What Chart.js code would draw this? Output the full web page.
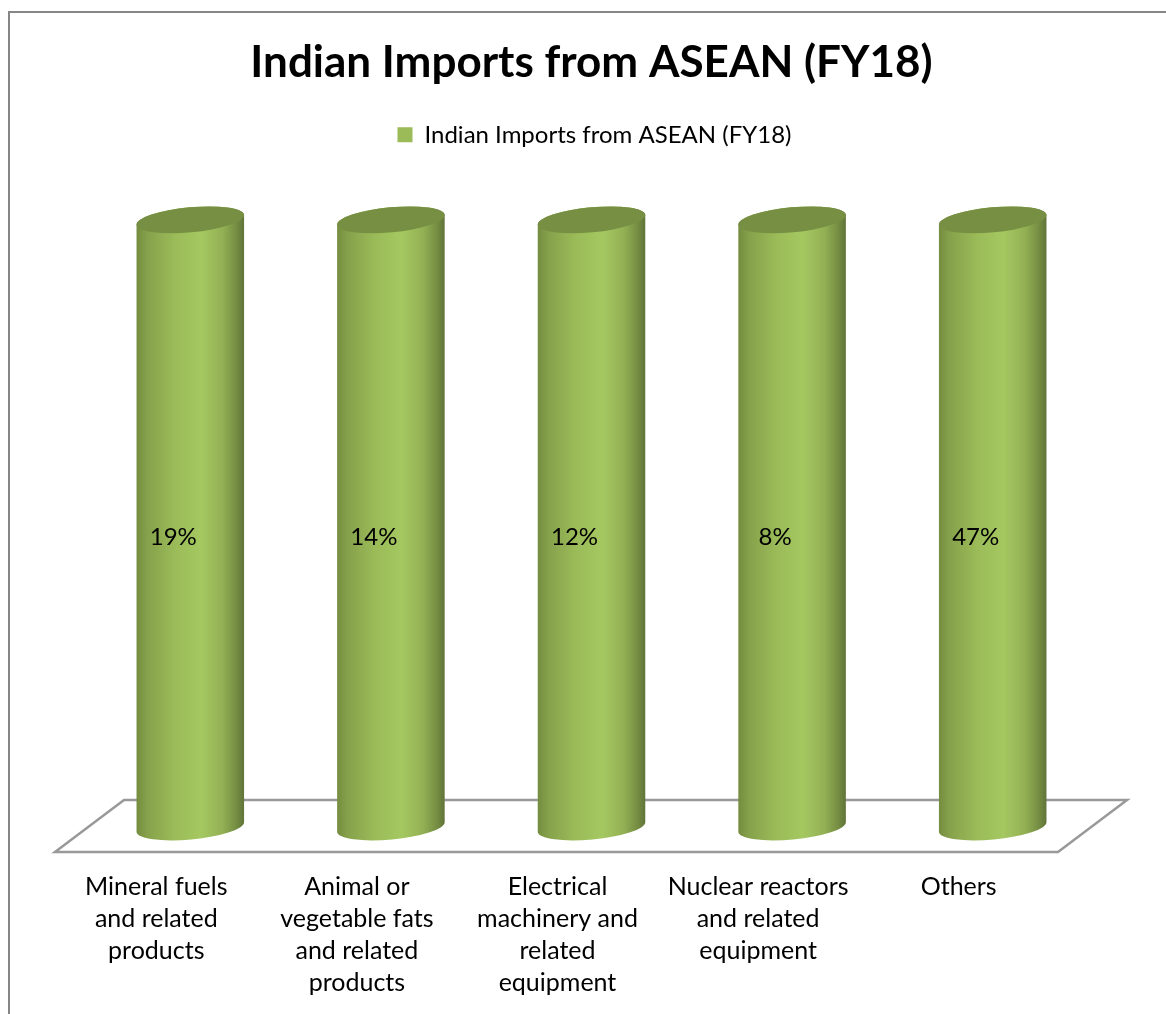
<!DOCTYPE html>
<html>
<head>
<meta charset="utf-8">
<title>Indian Imports from ASEAN (FY18)</title>
<script src="https://cdn.jsdelivr.net/npm/chart.js@4"></script>
<style>
html, body { margin: 0; padding: 0; background: #fff; overflow: hidden; }
#frame { position: absolute; left: 8px; top: 11px; width: 1200px; height: 1100px; border-left: 2px solid #868686; border-top: 2px solid #868686; }
#grafico { position: absolute; left: 0; top: 0; }
</style>
</head>
<body>
<div id="frame"></div>
<canvas id="grafico" width="1166" height="1014"></canvas>
<script>
var chartTitle = "Indian Imports from ASEAN (FY18)";
var categories = [
    ["Mineral fuels", "and related", "products"],
    ["Animal or", "vegetable fats", "and related", "products"],
    ["Electrical", "machinery and", "related", "equipment"],
    ["Nuclear reactors", "and related", "equipment"],
    ["Others"]
];
// the source is a 100% stacked column with one series, so every column is full height
var columnShare = [100, 100, 100, 100, 100];
var percentLabels = ["19%", "14%", "12%", "8%", "47%"];

var FONT = "Lato, Carlito, Calibri, sans-serif";
var TILT = -5.3 * Math.PI / 180;

var cylinders = {
    id: "cylinders",
    afterLayout: function (chart) {
        // legend padding only reserves room above the row, so pull it back up
        // to leave the gap under it; it also sits a little right of the title
        chart.legend.top -= 63;
        chart.legend.bottom -= 63;
        chart.legend.left += 3;
        chart.legend.right += 3;
    },
    beforeDatasetsDraw: function (chart) {
        // floor of the 3D plot
        var ctx = chart.ctx, a = chart.chartArea;
        var frontY = a.bottom + 25, backY = a.bottom - 27;
        ctx.save();
        ctx.strokeStyle = "#999999";
        ctx.lineWidth = 2.5;
        ctx.beginPath();
        ctx.moveTo(a.left - 35, frontY);
        ctx.lineTo(a.right - 35, frontY);
        ctx.lineTo(a.right + 34, backY);
        ctx.lineTo(a.left + 34, backY);
        ctx.closePath();
        ctx.stroke();
        ctx.restore();
    },
    beforeDatasetDraw: function (chart, args) {
        var ctx = chart.ctx;
        args.meta.data.forEach(function (bar, i) {
            var p = bar.getProps(["x", "y", "base", "width"], true);
            var rx = p.width / 2, ry = 12.5;
            var left = p.x - rx, right = p.x + rx;
            var g = ctx.createLinearGradient(left, 0, right, 0);
            g.addColorStop(0, "#738c3f");
            g.addColorStop(0.1, "#86a14b");
            g.addColorStop(0.35, "#9abb58");
            g.addColorStop(0.6, "#a5c861");
            g.addColorStop(0.8, "#93b054");
            g.addColorStop(0.93, "#748c42");
            g.addColorStop(1, "#5f7338");
            ctx.save();
            ctx.fillStyle = g;
            ctx.beginPath();
            ctx.ellipse(p.x, p.base, rx, ry, TILT, Math.PI, 0, true);
            ctx.ellipse(p.x, p.y, rx, ry, TILT, 0, Math.PI, true);
            ctx.closePath();
            ctx.fill();
            ctx.fillStyle = "#778f43";
            ctx.beginPath();
            ctx.ellipse(p.x, p.y, rx, ry, TILT, 0, Math.PI * 2);
            ctx.fill();
            ctx.fillStyle = "#000";
            ctx.font = "24px " + FONT;
            ctx.textAlign = "center";
            ctx.textBaseline = "middle";
            ctx.fillText(percentLabels[i], p.x - 17, (p.y + p.base) / 2 + 14);
            ctx.restore();
        });
        return false;
    }
};

new Chart(document.getElementById("grafico"), {
    type: "bar",
    data: {
        labels: categories,
        datasets: [
            {
                label: chartTitle,
                backgroundColor: "#9bbb59",
                borderWidth: 0,
                barThickness: 108,
                data: columnShare
            }
        ]
    },
    options: {
        responsive: false,
        animation: false,
        events: [],
        layout: { padding: { left: 90, right: 73, top: 36, bottom: -21 } },
        scales: {
            x: {
                grid: { display: false },
                border: { display: false },
                ticks: {
                    color: "#000",
                    font: { family: FONT, size: 25, lineHeight: 1.28 },
                    maxRotation: 0,
                    autoSkip: false,
                    labelOffset: -34,
                    padding: 36
                }
            },
            y: { display: false, min: 0, max: 100 }
        },
        plugins: {
            title: {
                display: true,
                text: chartTitle,
                color: "#000",
                font: { family: FONT, size: 44, weight: "bold" },
                padding: { top: 0, bottom: 0 }
            },
            legend: {
                display: true,
                position: "top",
                labels: {
                    color: "#000",
                    font: { family: FONT, size: 24 },
                    boxWidth: 15,
                    boxHeight: 15,
                    padding: 97
                }
            },
            tooltip: { enabled: false }
        }
    },
    plugins: [cylinders]
});
</script>
</body>
</html>
